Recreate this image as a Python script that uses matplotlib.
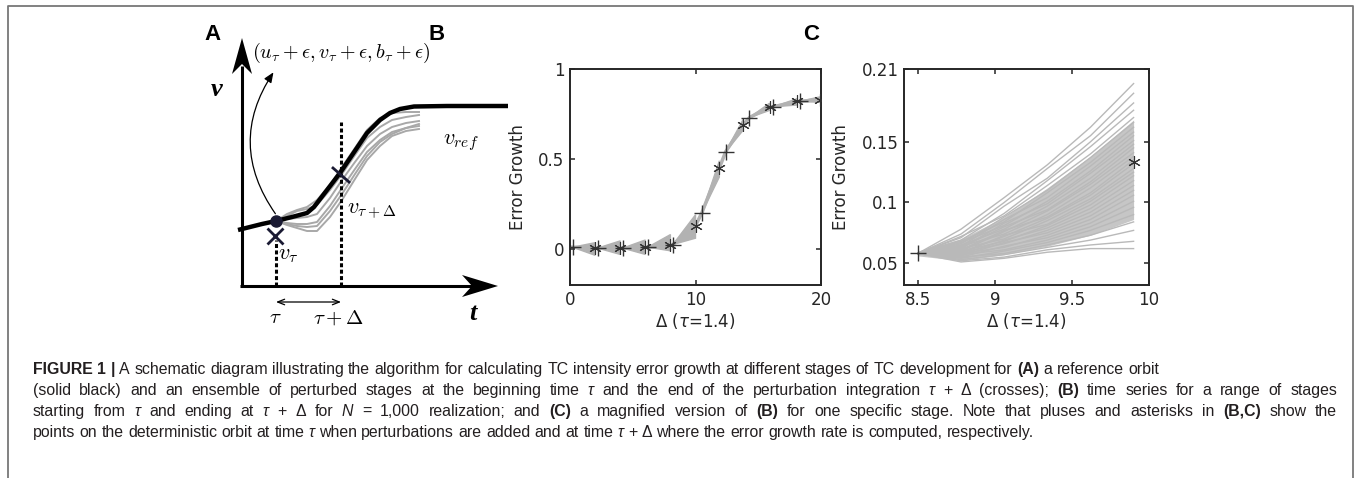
import matplotlib
matplotlib.use('Agg')
import matplotlib.pyplot as plt
from matplotlib.lines import Line2D

W, H = 1356, 478

# ── Panel A: schematic (sketch units, axes cross at t=0, v=0) ──────
ref_t = [-0.4, 2.0, 3.4, 5.0, 6.5, 7.2, 9.8, 12.5, 13.8, 14.8, 15.8, 17.2, 20.5, 26.6]
ref_v = [5.6, 6.2, 6.5, 6.9, 7.3, 7.9, 11.3, 15.3, 16.6, 17.3, 17.7, 17.95, 18.0, 18.0]
ens_t = [3.4, 4.5, 5.5, 6.5, 7.5, 8.8, 10.0, 11.3, 12.5, 13.8, 15.0, 16.4, 17.7]
ens_v1 = [6.5, 7.2, 7.6, 7.9, 8.6, 10.1, 11.9, 13.8, 15.6, 16.8, 17.3, 17.4, 17.4]
ens_v2 = [6.5, 7.0, 7.5, 7.7, 8.1, 9.6, 11.2, 13.1, 14.8, 15.9, 16.6, 16.9, 17.1]
ens_v3 = [6.5, 6.7, 6.8, 6.9, 7.2, 8.8, 10.6, 12.4, 14.0, 15.2, 15.9, 16.3, 16.5]
ens_v4 = [6.5, 6.3, 6.2, 6.2, 6.4, 8.0, 9.8, 11.7, 13.4, 14.6, 15.4, 15.8, 16.0]
ens_v5 = [6.5, 6.1, 5.8, 5.5, 5.5, 6.9, 8.6, 10.7, 12.6, 14.0, 15.0, 15.5, 15.7]
ens_v6 = [6.5, 6.2, 6.0, 5.9, 6.0, 7.5, 9.2, 11.2, 13.0, 14.4, 15.2, 15.8, 16.2]
tau_t, tau_d_t = 3.4, 9.9
tau_v, tau_d_v = 6.5, 11.1

# ── Panel B: stages (plus = start at tau, star = end at tau+Delta) ─
b_plus_x = [0.2, 2.2, 4.2, 6.2, 8.2, 10.5, 12.4, 14.3, 16.2, 18.3]
b_plus_y = [0.01, 0.005, 0.005, 0.01, 0.025, 0.20, 0.54, 0.73, 0.79, 0.82]
b_star_x = [2.0, 4.0, 6.0, 8.0, 10.0, 11.9, 13.8, 15.9, 18.1, 19.9]
b_star_y = [0.005, 0.005, 0.01, 0.02, 0.13, 0.45, 0.69, 0.79, 0.82, 0.83]
b_lo = [-0.035, -0.03, -0.03, -0.01, 0.06, 0.40, 0.66, 0.77, 0.80, 0.815]
b_hi = [0.035, 0.045, 0.05, 0.08, 0.19, 0.49, 0.72, 0.81, 0.835, 0.845]

# ── Panel C: one stage, ensemble runs read at a few Delta values ───
c_x = [8.5, 8.78, 9.06, 9.34, 9.62, 9.9]
c_v0 = [0.058] * 30
c_v1 = [0.078, 0.074, 0.071, 0.069, 0.072, 0.066, 0.068, 0.064, 0.067, 0.062,
        0.065, 0.063, 0.060, 0.064, 0.061, 0.059, 0.062, 0.058, 0.060, 0.057,
        0.059, 0.056, 0.058, 0.055, 0.057, 0.054, 0.055, 0.053, 0.052, 0.051]
c_v2 = [0.104, 0.100, 0.097, 0.091, 0.089, 0.088, 0.084, 0.086, 0.081, 0.083,
        0.078, 0.080, 0.076, 0.074, 0.077, 0.072, 0.070, 0.073, 0.068, 0.069,
        0.066, 0.067, 0.063, 0.064, 0.061, 0.060, 0.058, 0.057, 0.055, 0.054]
c_v3 = [0.131, 0.128, 0.120, 0.118, 0.114, 0.110, 0.108, 0.104, 0.101, 0.099,
        0.097, 0.094, 0.093, 0.090, 0.088, 0.087, 0.085, 0.082, 0.081, 0.079,
        0.077, 0.075, 0.073, 0.071, 0.069, 0.067, 0.065, 0.063, 0.061, 0.059]
c_v4 = [0.162, 0.155, 0.150, 0.146, 0.140, 0.137, 0.133, 0.130, 0.126, 0.124,
        0.120, 0.117, 0.115, 0.112, 0.108, 0.106, 0.103, 0.101, 0.098, 0.095,
        0.092, 0.089, 0.086, 0.083, 0.080, 0.077, 0.073, 0.069, 0.065, 0.062]
c_v5 = [0.198, 0.190, 0.182, 0.176, 0.170, 0.166, 0.162, 0.158, 0.155, 0.151,
        0.148, 0.145, 0.141, 0.138, 0.135, 0.132, 0.128, 0.125, 0.122, 0.118,
        0.114, 0.110, 0.106, 0.101, 0.096, 0.090, 0.084, 0.077, 0.068, 0.062]
# dense core of the ensemble
c_core_lo = [0.056, 0.052, 0.057, 0.064, 0.073, 0.086]
c_core_hi = [0.060, 0.070, 0.088, 0.112, 0.138, 0.168]
c_plus = (8.5, 0.058)
c_star = (9.9, 0.133)

fig = plt.figure(figsize=(W / 100, H / 100), dpi=100)

# outer frame
fig.add_artist(Line2D([8 / W, 8 / W, 1353 / W, 1353 / W], [0, 1 - 6 / H, 1 - 6 / H, 0],
                      color='#777777', lw=1.3))

# ── A ──────────────────────────────────────────────────────────────
axa = fig.add_axes([182 / W, 1 - 336 / H, 340 / W, 320 / H])
axa.set_xlim(-6, 28)
axa.set_ylim(-5, 27)
axa.axis('off')

# axes with arrows
axa.plot([0, 0], [0, 22], color='k', lw=2.2, solid_capstyle='butt')
axa.fill([0, -1.0, 0, 1.0], [24.8, 21.2, 22.2, 21.2], color='k', lw=0)
axa.plot([-0.2, 23], [0, 0], color='k', lw=2.2, solid_capstyle='butt')
axa.fill([25.6, 22.0, 23.0, 22.0], [0, 1.1, 0, -1.1], color='k', lw=0)

# ensemble and reference
for ev in [ens_v1, ens_v2, ens_v3, ens_v4, ens_v5, ens_v6]:
    axa.plot(ens_t, ev, color='#a8a8a8', lw=1.4, zorder=2)
axa.plot(ref_t, ref_v, color='k', lw=3.2, zorder=3, solid_capstyle='butt')

# dashed guides
axa.plot([tau_t, tau_t], [0, 4.6], color='k', lw=2.2, dashes=(1.3, 0.8))
axa.plot([tau_d_t, tau_d_t], [0, 16.4], color='k', lw=2.2, dashes=(1.3, 0.8))

# markers
axa.plot(tau_t, tau_v, 'o', color='#1a1a33', ms=8, zorder=4)
axa.plot(tau_t - 0.1, 5.0, 'x', color='#1a1a33', ms=11, mew=2, zorder=4)
axa.plot([9.1, 10.7], [11.8, 10.4], color='#1a1a33', lw=2, zorder=4)

# curved arrow from the perturbed point
axa.annotate('', xy=(3.3, 21.6), xytext=(3.5, 7.0),
             arrowprops=dict(arrowstyle='-|>,head_length=0.6,head_width=0.25',
                             color='k', lw=0.9, connectionstyle='arc3,rad=-0.35'))
# double arrow tau -> tau+Delta
axa.annotate('', xy=(tau_d_t, -1.6), xytext=(tau_t, -1.6),
             arrowprops=dict(arrowstyle='<->,head_length=0.5,head_width=0.2',
                             color='k', lw=0.9, shrinkA=0, shrinkB=0))

mt = dict(math_fontfamily='cm', color='k')
axa.text(1.0, 23.3, r'$(u_\tau+\epsilon,v_\tau+\epsilon,b_\tau+\epsilon)$',
         fontsize=14.5, ha='left', va='center', **mt)
axa.text(-2.5, 19.6, 'v', fontsize=19, family='Liberation Serif',
         weight='bold', style='italic', ha='center', va='center')
axa.text(23.1, -2.7, 't', fontsize=19, family='Liberation Serif',
         weight='bold', style='italic', ha='center', va='center')
axa.text(20.1, 14.3, r'$v_{ref}$', fontsize=16, ha='left', va='center', **mt)
axa.text(10.5, 7.4, r'$v_{\tau+\Delta}$', fontsize=16, ha='left', va='center', **mt)
axa.text(3.6, 3.1, r'$v_{\tau}$', fontsize=16, ha='left', va='center', **mt)
axa.text(3.3, -3.1, r'$\tau$', fontsize=15, ha='center', va='center', **mt)
axa.text(9.6, -3.2, r'$\tau+\Delta$', fontsize=15, ha='center', va='center', **mt)

# panel letters
for lab, px, py in [('A', 212, 35), ('B', 437, 35), ('C', 811, 35)]:
    fig.text(px / W, 1 - py / H, lab, fontsize=16, weight='bold',
             family='Liberation Sans', ha='center', va='center')

tick_col = '#262626'


def matlab_box(ax):
    for s in ax.spines.values():
        s.set_linewidth(1.4)
        s.set_color(tick_col)
    ax.tick_params(direction='in', top=True, right=True, length=3.5, width=1.1,
                   labelsize=12, labelcolor=tick_col, color=tick_col, pad=4)


# ── B ──────────────────────────────────────────────────────────────
axb = fig.add_axes([570 / W, 1 - 285 / H, 251 / W, 216 / H])
cx, cy = [], []
for i in range(len(b_plus_x)):
    axb.fill([b_plus_x[i], b_star_x[i], b_star_x[i]],
             [b_plus_y[i], b_lo[i], b_hi[i]],
             color='#b2b2b2', ec='#b2b2b2', lw=1.0, zorder=1)
    cx += [b_plus_x[i], b_star_x[i]]
    cy += [b_plus_y[i], b_star_y[i]]
axb.plot(cx, cy, color='#b2b2b2', lw=2.5, zorder=1)
axb.plot(b_plus_x, b_plus_y, ls='none', marker='+', color='#333333', ms=11, mew=1.0, zorder=3)
axb.plot(b_star_x, b_star_y, ls='none', marker=(6, 2, 0), color='#333333', ms=9, mew=0.8, zorder=3)
axb.set_xlim(0, 20)
axb.set_ylim(-0.2, 1)
axb.set_xticks([0, 10, 20])
axb.set_yticks([0, 0.5, 1])
axb.set_yticklabels(['0', '0.5', '1'])
matlab_box(axb)
axb.set_ylabel('Error Growth', fontsize=12, color=tick_col, labelpad=8)
axb.set_xlabel(r'$\Delta$ ($\tau$=1.4)', fontsize=12, color=tick_col, labelpad=2)

# ── C ──────────────────────────────────────────────────────────────
axc = fig.add_axes([904 / W, 1 - 285 / H, 245 / W, 216 / H])
axc.fill_between(c_x, c_core_lo, c_core_hi, color='#c6c6c6', lw=0, zorder=0)
for j in range(len(c_v1)):
    axc.plot(c_x, [c_v0[j], c_v1[j], c_v2[j], c_v3[j], c_v4[j], c_v5[j]],
             color='#b9b9b9', lw=1.0, zorder=1)
axc.plot(*c_plus, ls='none', marker='+', color='#333333', ms=11, mew=1.0, zorder=3)
axc.plot(*c_star, ls='none', marker=(6, 2, 0), color='#333333', ms=9, mew=0.8, zorder=3)
axc.set_xlim(8.41, 10)
axc.set_ylim(0.032, 0.21)
axc.set_xticks([8.5, 9, 9.5, 10])
axc.set_xticklabels(['8.5', '9', '9.5', '10'])
axc.set_yticks([0.05, 0.1, 0.15, 0.21])
axc.set_yticklabels(['0.05', '0.1', '0.15', '0.21'])
matlab_box(axc)
axc.set_ylabel('Error Growth', fontsize=12, color=tick_col, labelpad=8)
axc.set_xlabel(r'$\Delta$ ($\tau$=1.4)', fontsize=12, color=tick_col, labelpad=2)

# ── caption ────────────────────────────────────────────────────────
cap_family = ['Liberation Sans', 'DejaVu Sans']
cap_fs = 11.4
cap_col = '#231f20'
styles = {'n': {}, 'b': {'weight': 'bold'}, 'i': {'style': 'italic'}}
cap_lines = [
    [('FIGURE 1 | ', 'b'),
     ('A schematic diagram illustrating the algorithm for calculating TC intensity error growth at different stages of TC development for ', 'n'),
     ('(A)', 'b'), (' a reference orbit', 'n')],
    [('(solid black) and an ensemble of perturbed stages at the beginning time ', 'n'), ('τ', 'i'),
     (' and the end of the perturbation integration ', 'n'), ('τ', 'i'), (' + Δ (crosses); ', 'n'),
     ('(B)', 'b'), (' time series for a range of stages', 'n')],
    [('starting from ', 'n'), ('τ', 'i'), (' and ending at ', 'n'), ('τ', 'i'), (' + Δ for ', 'n'),
     ('N', 'i'), (' = 1,000 realization; and ', 'n'), ('(C)', 'b'), (' a magnified version of ', 'n'),
     ('(B)', 'b'), (' for one specific stage. Note that pluses and asterisks in ', 'n'),
     ('(B,C)', 'b'), (' show the', 'n')],
    [('points on the deterministic orbit at time ', 'n'), ('τ', 'i'),
     (' when perturbations are added and at time ', 'n'), ('τ', 'i'),
     (' + Δ where the error growth rate is computed, respectively.', 'n')],
]
cap_y = [374, 395, 416, 437]
cap_justify = [False, True, True, False]
cap_left, cap_right = 33.0, 1337.0

renderer = fig.canvas.get_renderer()


def text_width(s, st):
    t = fig.text(0, 0, s, fontsize=cap_fs, family=cap_family, **styles[st])
    w = t.get_window_extent(renderer).width
    t.remove()
    return w


space_w = {st: text_width('x x', st) - text_width('xx', st) for st in styles}

for segs, yy, just in zip(cap_lines, cap_y, cap_justify):
    # split into words and spaces so justified lines can stretch the gaps
    tokens = []
    for s, st in segs:
        for k, part in enumerate(s.split(' ')):
            if k > 0:
                tokens.append((None, st))
            if part:
                tokens.append((part, st))
    widths = [space_w[st] if w is None else text_width(w, st) for w, st in tokens]
    n_gaps = sum(1 for w, _ in tokens if w is None)
    extra = 0.0
    if just and n_gaps:
        extra = (cap_right - cap_left - sum(widths)) / n_gaps
    x = cap_left
    for (w, st), tw in zip(tokens, widths):
        if w is None:
            x += tw + extra
            continue
        fig.text(x / W, 1 - yy / H, w, fontsize=cap_fs, family=cap_family,
                 color=cap_col, va='baseline', ha='left', **styles[st])
        x += tw

fig.savefig('out.png', dpi=100, facecolor='white')
